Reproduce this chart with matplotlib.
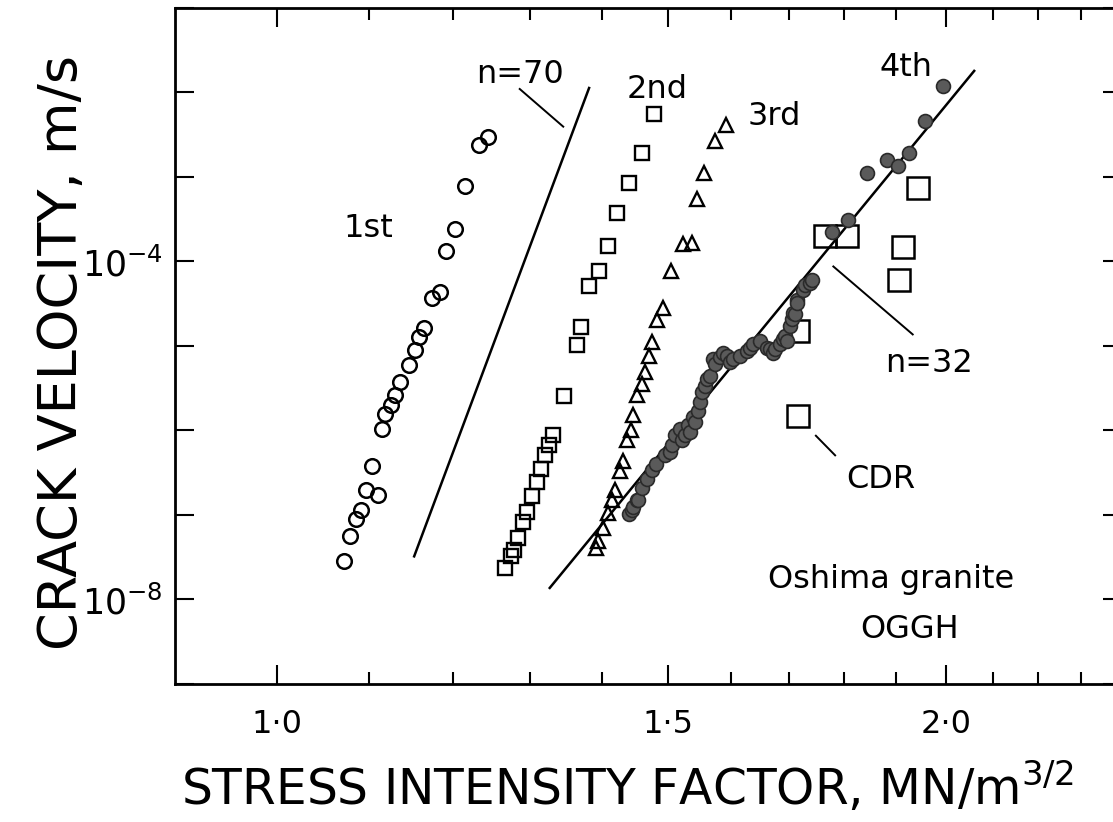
import numpy as np
import matplotlib
matplotlib.use("Agg")
import matplotlib.pyplot as plt
from matplotlib.ticker import FixedLocator, FuncFormatter, NullFormatter, NullLocator

# stress intensity factor K (MN/m^3/2) and crack velocity v (m/s)
k_1st = [1.0719, 1.0794, 1.0853, 1.0917, 1.1107, 1.0974, 1.1043, 1.1147, 1.1188, 1.1251,
         1.1307, 1.1367, 1.1469, 1.1541, 1.1582, 1.1649, 1.1750, 1.1840, 1.1914, 1.2026,
         1.2151, 1.2332, 1.2448]
v_1st = [2.88e-8, 5.57e-8, 8.89e-8, 1.15e-7, 1.72e-7, 1.97e-7, 3.77e-7, 1.03e-6, 1.57e-6, 2.00e-6,
         2.63e-6, 3.71e-6, 5.93e-6, 8.97e-6, 1.26e-5, 1.64e-5, 3.71e-5, 4.32e-5, 1.32e-4, 2.44e-4,
         7.78e-4, 2.36e-3, 3.01e-3]

k_2nd = [1.2665, 1.2740, 1.2784, 1.2841, 1.2900, 1.2953, 1.3021, 1.3089, 1.3143, 1.3201,
         1.3260, 1.3315, 1.3464, 1.3642, 1.3703, 1.3821, 1.3965, 1.4087, 1.4228, 1.4397,
         1.4593, 1.4784]
v_2nd = [2.36e-8, 3.24e-8, 3.87e-8, 5.32e-8, 8.36e-8, 1.08e-7, 1.69e-7, 2.47e-7, 3.54e-7, 5.08e-7,
         6.79e-7, 8.73e-7, 2.54e-6, 1.02e-5, 1.69e-5, 5.18e-5, 7.78e-5, 1.54e-4, 3.71e-4, 8.59e-4,
         1.91e-3, 5.57e-3]

k_3rd = [1.3918, 1.3951, 1.4023, 1.4096, 1.4145, 1.4194, 1.4268, 1.4317, 1.4368, 1.4427,
         1.4457, 1.4517, 1.4593, 1.4643, 1.4708, 1.4754, 1.4821, 1.4914, 1.5043, 1.5226,
         1.5369, 1.5448, 1.5566, 1.5744, 1.5920]
v_3rd = [4.06e-8, 4.86e-8, 6.98e-8, 1.05e-7, 1.50e-7, 1.97e-7, 3.30e-7, 4.32e-7, 7.62e-7, 1.00e-6,
         1.53e-6, 2.63e-6, 3.54e-6, 4.94e-6, 7.62e-6, 1.10e-5, 2.02e-5, 2.83e-5, 7.62e-5, 1.61e-4,
         1.64e-4, 5.47e-4, 1.10e-3, 2.70e-3, 4.13e-3]

k_4th = [1.4402, 1.4442, 1.4466, 1.4517, 1.4542, 1.4593, 1.4668, 1.4744, 1.4816, 1.4949,
         1.5027, 1.5054, 1.5105, 1.5183, 1.5211, 1.5264, 1.5316, 1.5343, 1.5395, 1.5422,
         1.5474, 1.5501, 1.5532, 1.5582, 1.5610, 1.5663, 1.5716, 1.5744, 1.5826, 1.5880,
         1.5936, 1.5991, 1.6046, 1.6157, 1.6270, 1.6326, 1.6382, 1.6496, 1.6611, 1.6668,
         1.6725, 1.6754, 1.6841, 1.6899, 1.6928, 1.6959, 1.7016, 1.7047, 1.7075, 1.7105,
         1.7135, 1.7135, 1.7253, 1.7283, 1.7373, 1.7402, 1.7768, 1.8076, 1.8424, 1.8810,
         1.9037, 1.9256, 1.9572, 1.9946]
v_4th = [1.02e-7, 1.15e-7, 1.26e-7, 1.50e-7, 1.50e-7, 2.06e-7, 2.70e-7, 3.38e-7, 4.06e-7, 5.08e-7,
         5.57e-7, 6.67e-7, 8.73e-7, 1.05e-6, 7.62e-7, 8.73e-7, 1.15e-6, 9.57e-7, 1.44e-6, 1.26e-6,
         1.72e-6, 2.16e-6, 2.83e-6, 3.38e-6, 4.06e-6, 4.44e-6, 6.98e-6, 6.10e-6, 7.31e-6, 8.36e-6,
         7.62e-6, 6.38e-6, 6.98e-6, 7.62e-6, 8.73e-6, 9.57e-6, 1.05e-5, 1.15e-5, 9.57e-6, 9.14e-6,
         8.36e-6, 9.14e-6, 1.05e-5, 1.20e-5, 1.31e-5, 1.15e-5, 1.72e-5, 2.06e-5, 2.47e-5, 2.36e-5,
         3.54e-5, 3.24e-5, 4.65e-5, 5.32e-5, 5.57e-5, 6.10e-5, 2.25e-4, 3.10e-4, 1.11e-3, 1.57e-3,
         1.34e-3, 1.91e-3, 4.65e-3, 1.20e-2]

k_cdr = [1.7164, 1.7164, 1.7645, 1.8047, 1.9057, 1.9136, 1.9436]
v_cdr = [1.50e-6, 1.50e-5, 2.02e-4, 2.02e-4, 6.10e-5, 1.50e-4, 7.31e-4]

# power-law guide lines (end points)
k_n70 = [1.153, 1.382]
v_n70 = [3.24e-8, 1.13e-2]
k_n32 = [1.3268, 2.0593]
v_n32 = [1.37e-8, 1.80e-2]

x_major = [1.0, 1.5, 2.0]
x_minor = [1.1, 1.2, 1.3, 1.4, 1.6, 1.7, 1.8, 1.9, 2.1, 2.2, 2.3]
y_decades = 10.0 ** np.arange(-9, 0)
y_labelled = {-4: r"$10^{-4}$", -8: r"$10^{-8}$"}

plt.rcParams["font.family"] = ["DejaVu Sans"]
plt.rcParams["mathtext.fontset"] = "dejavusans"

fig = plt.figure(figsize=(11.13, 8.22), dpi=100)
ax = fig.add_axes([0.1572, 0.1679, 0.8509, 0.8224])
ax.set_xscale("log")
ax.set_yscale("log")

ax.plot(k_n70, v_n70, color="black", lw=1.8, zorder=2)
ax.plot(k_n32, v_n32, color="black", lw=1.8, zorder=2)

ax.plot(k_1st, v_1st, "o", ls="none", ms=10.5, mfc="none", mec="black", mew=1.8, zorder=3)
ax.plot(k_2nd, v_2nd, "s", ls="none", ms=9.5, mfc="none", mec="black", mew=1.7, zorder=3)
ax.plot(k_3rd, v_3rd, "^", ls="none", ms=10.5, mfc="none", mec="black", mew=1.7, zorder=3)
ax.plot(k_cdr, v_cdr, "s", ls="none", ms=16, mfc="none", mec="black", mew=1.8, zorder=3)
ax.plot(k_4th, v_4th, "o", ls="none", ms=10, mfc="#5a5a5a", mec="#2a2a2a", mew=1.2, zorder=4)

# labels on the curves
txt = dict(fontsize=23, ha="center", va="baseline", color="black")
ax.text(1.100, 1.95e-4, "1st", **txt)
ax.text(1.2862, 1.30e-2, "n=70", **txt)
ax.text(1.4826, 8.67e-3, "2nd", **txt)
ax.text(1.6737, 4.17e-3, "3rd", **txt)
ax.text(1.9190, 1.57e-2, "4th", **txt)
ax.text(1.9653, 4.91e-6, "n=32", **txt)
ax.text(1.8700, 2.06e-7, "CDR", **txt)
ax.text(1.8905, 1.37e-8, "Oshima granite", **txt)
ax.text(1.9250, 3.54e-9, "OGGH", **txt)

ax.plot([1.2862, 1.3455], [1.10e-2, 3.94e-3], color="black", lw=1.4, zorder=2)
ax.plot([1.7798, 1.9323], [8.73e-5, 1.37e-5], color="black", lw=1.4, zorder=2)
ax.plot([1.7479, 1.7831], [8.67e-7, 5.08e-7], color="black", lw=1.4, zorder=2)

ax.set_xlim(0.9, 2.4)
ax.set_ylim(1e-9, 1e-1)

ax.xaxis.set_major_locator(FixedLocator(x_major))
ax.xaxis.set_minor_locator(FixedLocator(x_minor))
ax.xaxis.set_major_formatter(FuncFormatter(lambda v, p: f"{v:.1f}".replace(".", "\u00b7")))
ax.xaxis.set_minor_formatter(NullFormatter())

ax.yaxis.set_major_locator(FixedLocator(y_decades))
ax.yaxis.set_minor_locator(NullLocator())
ax.yaxis.set_major_formatter(
    FuncFormatter(lambda v, p: y_labelled.get(int(round(np.log10(v))), "")))

ax.tick_params(which="both", direction="in", top=True, right=True, width=1.5, labelsize=23)
ax.tick_params(axis="x", which="major", length=14, pad=18)
ax.tick_params(axis="x", which="minor", length=8.5)
ax.tick_params(axis="y", which="major", length=14, pad=9, labelsize=25)
for s in ax.spines.values():
    s.set_linewidth(2)

fig.text(627 / 1113, 1 - 805 / 822, "STRESS INTENSITY FACTOR, MN/m$^{3/2}$",
         fontsize=35, ha="center", va="baseline")
fig.text(62 / 1113, 1 - 352 / 822, "CRACK VELOCITY, m/s",
         fontsize=39, rotation=90, ha="center", va="center")

fig.savefig("out.png", dpi=100, facecolor="white")
